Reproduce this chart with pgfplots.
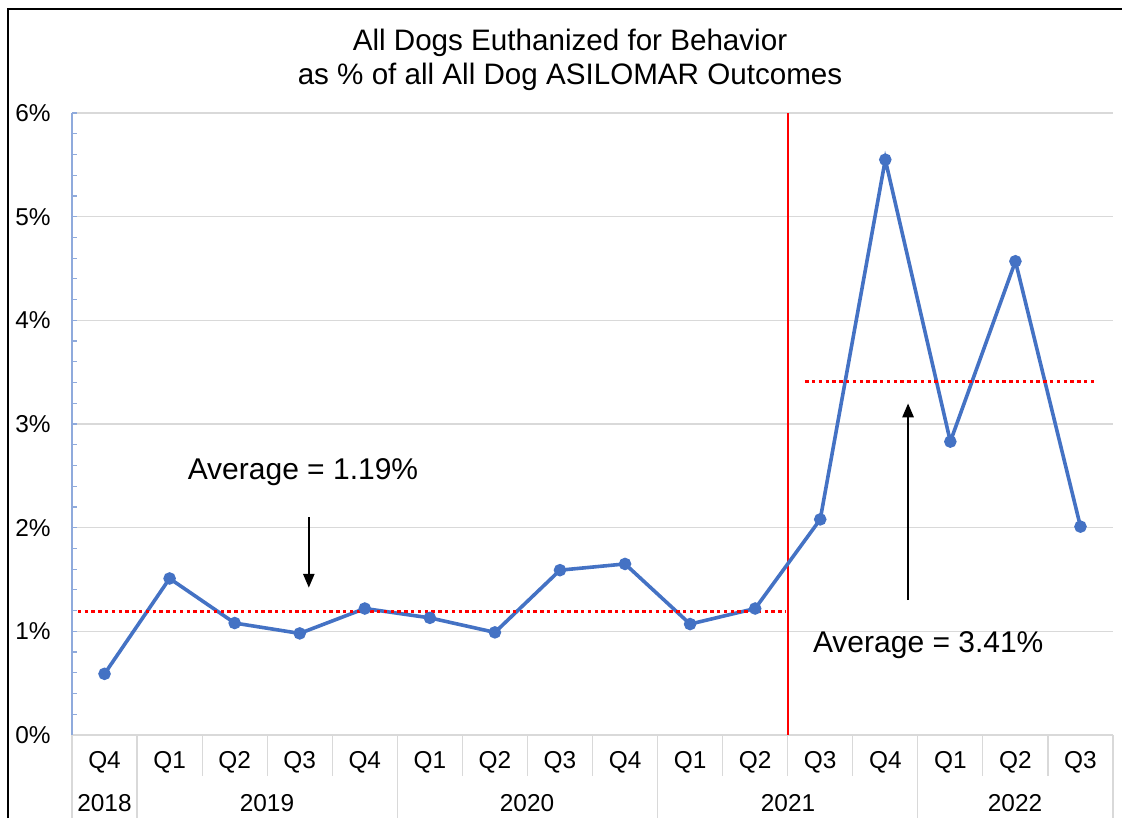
\documentclass[border=0pt]{standalone}
\usepackage{fontspec}
\setmainfont{Liberation Sans}
\usepackage{pgfplots}
\pgfplotsset{compat=1.18}
\usetikzlibrary{arrows.meta}
\definecolor{lineblue}{HTML}{4472C4}
\definecolor{axblue}{HTML}{8FAADC}
\definecolor{gridgray}{HTML}{D9D9D9}

\begin{document}
\begin{tikzpicture}[x=0.5pt,y=0.5pt]
\useasboundingbox (0,0) rectangle (1122,818);
% frame of the figure
\draw[line width=1pt] (8,0) -- (8,809) -- (1122,809);
\node[font=\fontsize{14.8}{17}\selectfont, align=center] at (570,758)
  {All Dogs Euthanized for Behavior\\as \% of all All Dog ASILOMAR Outcomes};

\begin{axis}[
    at={(36pt,41.5pt)}, anchor=south west,
    scale only axis, width=520.5pt, height=311pt,
    xmin=-0.5, xmax=15.5, ymin=0, ymax=6,
    axis x line*=bottom, axis y line*=left,
    axis line style={-},
    x axis line style={gridgray, line width=0.8pt},
    y axis line style={axblue, line width=0.8pt},
    xtick={0,...,15},
    xticklabels={Q4,Q1,Q2,Q3,Q4,Q1,Q2,Q3,Q4,Q1,Q2,Q3,Q4,Q1,Q2,Q3},
    x tick style={draw=none},
    xticklabel style={anchor=center, yshift=-13.5pt},
    ytick={0,...,6},
    yticklabel={\pgfmathprintnumber{\tick}\%},
    yticklabel style={anchor=east, inner sep=0pt, xshift=-10.5pt},
    minor y tick num=4,
    tick align=inside,
    major tick length=2.5pt, minor tick length=2.5pt,
    y tick style={axblue, line width=0.6pt},
    ymajorgrids,
    major grid style={gridgray, line width=0.6pt},
    tick label style={font=\fontsize{12.2}{14}\selectfont},
    /pgf/number format/assume math mode=true,
    clip=false,
]
\addplot[red, line width=1pt] coordinates {(10.5,0) (10.5,6)};
\addplot[lineblue, line width=1.8pt, mark=*, mark size=2.2pt] coordinates {
    (0,0.59) (1,1.51) (2,1.08) (3,0.98) (4,1.22) (5,1.13) (6,0.99) (7,1.59)
    (8,1.65) (9,1.07) (10,1.22) (11,2.08) (12,5.55) (13,2.83) (14,4.57) (15,2.01)
};
\addplot[red, line width=1.8pt, dash pattern=on 1.7pt off 1.7pt] coordinates {(-0.41,1.19) (10.46,1.19)};
\addplot[red, line width=1.8pt, dash pattern=on 1.7pt off 1.7pt] coordinates {(10.77,3.41) (15.22,3.41)};

\draw[-{Triangle[length=7pt,width=5.5pt]}, line width=1.3pt] (axis cs:3.14,2.10) -- (axis cs:3.14,1.42);
\draw[-{Triangle[length=7pt,width=5.5pt]}, line width=1.3pt] (axis cs:12.35,1.30) -- (axis cs:12.35,3.20);
\node[font=\fontsize{15}{17}\selectfont] at (axis cs:3.05,2.54) {Average = 1.19\%};
\node[font=\fontsize{15}{17}\selectfont] at (axis cs:12.66,0.87) {Average = 3.41\%};
\end{axis}

% category separators under the axis
\foreach \k in {2,3,4,6,7,8,10,11,12,14,15}
  \draw[gridgray, line width=0.6pt] ({72+65.0625*\k},83) -- ({72+65.0625*\k},42);
\foreach \k in {0,1,5,9,13,16}
  \draw[gridgray, line width=0.6pt] ({72+65.0625*\k},83) -- ({72+65.0625*\k},0);
\begin{scope}[font=\fontsize{12.2}{14}\selectfont]
\node at (104.5,15) {2018};
\node at (267,15) {2019};
\node at (527,15) {2020};
\node at (788,15) {2021};
\node at (1015,15) {2022};
\end{scope}
\end{tikzpicture}
\end{document}
